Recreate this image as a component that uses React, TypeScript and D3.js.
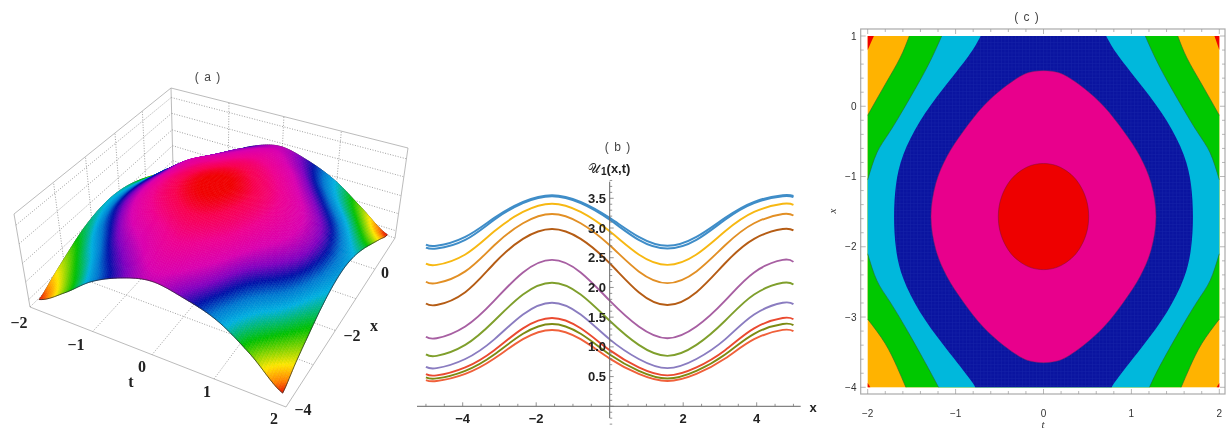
import React, { useMemo } from "react";
import * as d3 from "d3";

// ---------- panel (a): surface heights and hue values
const surfaceT = [-2, -1.5, -1, -0.5, 0, 0.5, 1, 1.5, 2];
const surfaceX = [1, 0.5, 0, -0.5, -1, -1.5, -2, -2.5, -3, -3.5, -4];
const surfaceH = [
  [0.88, 1.30, 1.95, 2.50, 2.77, 2.55, 2.14, 1.50, 0.88],
  [1.12, 1.62, 2.30, 2.80, 2.97, 2.73, 2.35, 1.74, 1.17],
  [1.40, 2.05, 2.66, 3.02, 3.15, 2.96, 2.60, 2.03, 1.47],
  [1.66, 2.30, 2.96, 3.20, 3.35, 3.17, 2.84, 2.30, 1.76],
  [1.85, 2.45, 3.05, 3.36, 3.48, 3.32, 3.06, 2.54, 1.98],
  [1.93, 2.52, 3.13, 3.45, 3.553, 3.40, 3.15, 2.65, 2.08],
  [1.88, 2.48, 3.08, 3.40, 3.51, 3.35, 3.10, 2.60, 2.02],
  [1.72, 2.30, 2.91, 3.23, 3.38, 3.22, 2.93, 2.42, 1.83],
  [1.46, 2.03, 2.66, 3.00, 3.20, 3.02, 2.70, 2.16, 1.55],
  [1.18, 1.72, 2.40, 2.80, 3.00, 2.84, 2.48, 1.90, 1.25],
  [0.90, 1.46, 2.15, 2.60, 2.84, 2.66, 2.33, 1.68, 0.90],
];
const surfaceU = [
  [0.88, 1.38, 2.06, 2.50, 2.77, 2.50, 2.00, 1.43, 0.88],
  [1.12, 1.68, 2.34, 2.68, 2.92, 2.68, 2.18, 1.67, 1.17],
  [1.40, 2.02, 2.62, 2.93, 3.13, 2.93, 2.46, 1.99, 1.47],
  [1.66, 2.28, 2.88, 3.19, 3.33, 3.15, 2.74, 2.30, 1.76],
  [1.85, 2.46, 3.06, 3.39, 3.48, 3.31, 2.96, 2.54, 1.98],
  [1.93, 2.56, 3.15, 3.47, 3.553, 3.39, 3.05, 2.65, 2.08],
  [1.88, 2.51, 3.10, 3.42, 3.51, 3.34, 3.00, 2.59, 2.02],
  [1.72, 2.32, 2.91, 3.25, 3.38, 3.21, 2.81, 2.38, 1.83],
  [1.46, 2.03, 2.64, 2.98, 3.19, 2.98, 2.54, 2.08, 1.55],
  [1.18, 1.71, 2.35, 2.75, 2.98, 2.75, 2.30, 1.75, 1.25],
  [0.90, 1.46, 2.11, 2.54, 2.80, 2.54, 2.11, 1.48, 0.90],
];
const hueLevels = [0.9, 1.02, 1.22, 1.62, 1.98, 2.2, 2.4, 2.6, 2.85, 3.15, 3.4, 3.53];
const hueColors = ["#e81800", "#ff8000", "#ffe600", "#00c000", "#00b0e0", "#0078d0", "#0010a8", "#8000c0", "#d800b0", "#ee0090", "#f80050", "#f00000"];
const wallFractions = [0.08, 0.27, 0.47, 0.68, 0.88];
const surfaceTTicks = [-2, -1, 0, 1, 2];
const surfaceXTicks = [-4, -3, -2, -1, 0, 1];
const floorCorners = [[30, 307], [286, 407], [395, 238], [173, 167]];
const topCorners = [[14, 214], [292, 305], [408, 148], [171, 88]];

// ---------- panel (b): line values
const linePhaseX = [-5, -4.71, -3.93, -3.14, -2.36, -1.57, -0.79, 0, 0.79, 1.57, 2.36, 3.14, 3.93, 4.71, 5];
const lineBlueA = [2.72, 2.70, 2.85, 3.17, 3.44, 3.553, 3.44, 3.17, 2.85, 2.70, 2.85, 3.17, 3.44, 3.553, 3.54];
const lineBlueB = [2.67, 2.654, 2.80, 3.14, 3.42, 3.536, 3.42, 3.14, 2.80, 2.654, 2.80, 3.14, 3.42, 3.536, 3.52];
const lineYellow = [2.40, 2.38, 2.555, 2.945, 3.27, 3.408, 3.27, 2.945, 2.555, 2.38, 2.555, 2.945, 3.27, 3.408, 3.39];
const lineOrange = [2.096, 2.073, 2.27, 2.71, 3.08, 3.235, 3.08, 2.71, 2.27, 2.073, 2.27, 2.71, 3.08, 3.235, 3.21];
const lineBrown = [1.73, 1.704, 1.92, 2.407, 2.817, 2.983, 2.817, 2.407, 1.92, 1.704, 1.92, 2.407, 2.817, 2.983, 2.96];
const linePurple = [1.17, 1.145, 1.343, 1.778, 2.253, 2.464, 2.253, 1.778, 1.343, 1.145, 1.343, 1.778, 2.253, 2.464, 2.43];
const lineGreen = [0.874, 0.849, 1.033, 1.439, 1.881, 2.078, 1.881, 1.439, 1.033, 0.849, 1.033, 1.439, 1.881, 2.078, 2.05];
const lineViolet = [0.664, 0.642, 0.796, 1.126, 1.545, 1.743, 1.545, 1.126, 0.796, 0.642, 0.796, 1.126, 1.545, 1.743, 1.72];
const lineRed = [0.54, 0.52, 0.655, 0.945, 1.312, 1.486, 1.312, 0.945, 0.655, 0.52, 0.655, 0.945, 1.312, 1.486, 1.465];
const lineOlive = [0.487, 0.469, 0.597, 0.872, 1.22, 1.385, 1.22, 0.872, 0.597, 0.469, 0.597, 0.872, 1.22, 1.385, 1.365];
const lineCoral = [0.442, 0.425, 0.545, 0.803, 1.13, 1.285, 1.13, 0.803, 0.545, 0.425, 0.545, 0.803, 1.13, 1.285, 1.265];
const lineSeries = [lineCoral, lineOlive, lineRed, lineViolet, lineGreen, linePurple, lineBrown, lineOrange, lineYellow, lineBlueB, lineBlueA];
const lineColors = ["#f0603a", "#7c8a12", "#ea4a30", "#8a7cc0", "#7f9f2c", "#a75fa2", "#b55c14", "#e28f24", "#f7b812", "#3f8dc8", "#3f8dc8"];
const lineWidths = [1.9, 1.9, 1.9, 1.9, 1.9, 1.9, 1.9, 1.9, 1.9, 2, 2];
const bXTicks = [-4, -2, 2, 4];
const bYTicks = [0.5, 1, 1.5, 2, 2.5, 3, 3.5];

// ---------- panel (c): contour outlines, as [t, x]
const contourRed = [[0, -0.815], [-0.135, -0.84], [-0.257, -0.916], [-0.365, -1.035], [-0.445, -1.192], [-0.497, -1.375], [-0.514, -1.57], [-0.497, -1.767], [-0.445, -1.948], [-0.365, -2.105], [-0.257, -2.224], [-0.135, -2.3], [0, -2.325], [0.135, -2.3], [0.257, -2.224], [0.365, -2.105], [0.445, -1.948], [0.497, -1.767], [0.514, -1.57], [0.497, -1.375], [0.445, -1.192], [0.365, -1.035], [0.257, -0.916], [0.135, -0.84]];
const contourPink = [[0, 0.507], [-0.1, 0.497], [-0.22, 0.455], [-0.457, 0.26], [-0.685, 0], [-0.912, -0.357], [-1.1, -0.72], [-1.225, -1.1], [-1.28, -1.57], [-1.225, -2.04], [-1.1, -2.42], [-0.912, -2.785], [-0.685, -3.142], [-0.457, -3.4], [-0.22, -3.597], [-0.1, -3.639], [0, -3.65], [0.1, -3.639], [0.22, -3.597], [0.457, -3.4], [0.685, -3.142], [0.912, -2.785], [1.1, -2.42], [1.225, -2.04], [1.28, -1.57], [1.225, -1.1], [1.1, -0.72], [0.912, -0.357], [0.685, 0], [0.457, 0.26], [0.22, 0.455], [0.1, 0.497]];
const blueEdgeLeft = [[-0.715, 1], [-0.855, 0.711], [-1.14, 0.253], [-1.405, -0.214], [-1.595, -0.689], [-1.678, -1.116], [-1.7, -1.57], [-1.678, -2.026], [-1.595, -2.453], [-1.405, -2.928], [-1.14, -3.395], [-0.855, -3.853], [-0.777, -4]];
const blueEdgeRight = [[0.777, -4], [0.855, -3.853], [1.14, -3.395], [1.405, -2.928], [1.595, -2.453], [1.678, -2.026], [1.7, -1.57], [1.678, -1.116], [1.595, -0.689], [1.405, -0.214], [1.14, 0.253], [0.855, 0.711], [0.713, 1]];
const cyanTopLeft = [[-1.158, 1], [-1.31, 0.59], [-1.519, 0.118], [-1.746, -0.357], [-1.895, -0.66], [-2, -1.045]];
const cyanBottomLeft = [[-2, -2.1], [-1.895, -2.482], [-1.746, -2.785], [-1.519, -3.26], [-1.31, -3.73], [-1.194, -4]];
const cyanBottomRight = [[1.206, -4], [1.31, -3.73], [1.519, -3.26], [1.746, -2.785], [1.895, -2.482], [2, -2.1]];
const cyanTopRight = [[2, -1.045], [1.895, -0.66], [1.746, -0.357], [1.519, 0.118], [1.31, 0.59], [1.158, 1]];
const greenTopLeft = [[-1.527, 1], [-1.632, 0.687], [-1.803, 0.307], [-2, -0.129]];
const greenBottomLeft = [[-2, -3.03], [-1.803, -3.373], [-1.668, -3.705], [-1.566, -4]];
const greenBottomRight = [[1.566, -4], [1.668, -3.705], [1.803, -3.373], [2, -3.03]];
const greenTopRight = [[2, -0.129], [1.803, 0.307], [1.632, 0.687], [1.528, 1]];
const redCorners = [
  [[-2, 1], [-1.93, 1], [-2, 0.8]],
  [[2, 1], [1.945, 1], [2, 0.8]],
  [[-2, -4], [-1.97, -4], [-2, -3.94]],
  [[2, -4], [1.97, -4], [2, -3.94]],
];
const cTTicks = [-2, -1, 0, 1, 2];
const cXTicks = [1, 0, -1, -2, -3, -4];

const SANS = "'Liberation Sans', Arial, sans-serif";
const SERIF = "'Liberation Serif', 'Times New Roman', serif";

function homography(q: number[][]) {
  const [[x0, y0], [x1, y1], [x2, y2], [x3, y3]] = q;
  const dx1 = x1 - x2, dx2 = x3 - x2, sx = x0 - x1 + x2 - x3;
  const dy1 = y1 - y2, dy2 = y3 - y2, sy = y0 - y1 + y2 - y3;
  const den = dx1 * dy2 - dx2 * dy1;
  const g = (sx * dy2 - dx2 * sy) / den, h = (dx1 * sy - sx * dy1) / den;
  const a = x1 - x0 + g * x1, b = x3 - x0 + h * x3;
  const d = y1 - y0 + g * y1, e = y3 - y0 + h * y3;
  return (u: number, v: number) => {
    const w = g * u + h * v + 1;
    return [(a * u + b * v + x0) / w, (d * u + e * v + y0) / w];
  };
}

function cr(p0: number, p1: number, p2: number, p3: number, f: number) {
  return 0.5 * (2 * p1 + (p2 - p0) * f + (2 * p0 - 5 * p1 + 4 * p2 - p3) * f * f + (3 * p1 - p0 - 3 * p2 + p3) * f * f * f);
}

function sampleSurface(m: number[][], t: number, x: number) {
  const ft = ((t - surfaceT[0]) / (surfaceT[surfaceT.length - 1] - surfaceT[0])) * (surfaceT.length - 1);
  const fx = ((surfaceX[0] - x) / (surfaceX[0] - surfaceX[surfaceX.length - 1])) * (surfaceX.length - 1);
  const it = Math.min(Math.floor(ft), surfaceT.length - 2), ix = Math.min(Math.floor(fx), surfaceX.length - 2);
  const at = (r: number, c: number) => m[Math.max(0, Math.min(surfaceX.length - 1, r))][Math.max(0, Math.min(surfaceT.length - 1, c))];
  const row = (r: number) => cr(at(r, it - 1), at(r, it), at(r, it + 1), at(r, it + 2), ft - it);
  return cr(row(ix - 1), row(ix), row(ix + 1), row(ix + 2), fx - ix);
}

function PanelA() {
  const uScale = d3.scaleLinear().domain([-2, 2]).range([0.025, 0.975]);
  const vScale = d3.scaleLinear().domain([-4, 1]).range([0.025, 0.975]);
  const zScale = d3.scaleLinear().domain([0.72, 3.72]).range([0, 1]);
  const color = d3.scaleLinear<string>().domain(hueLevels).range(hueColors).interpolate(d3.interpolateRgb).clamp(true);
  const hFloor = homography(floorCorners);
  const hTop = homography(topCorners);
  const project = (t: number, x: number, f: number) => {
    const a = hFloor(uScale(t), vScale(x));
    const b = hTop(uScale(t), vScale(x));
    return [a[0] + (b[0] - a[0]) * f, a[1] + (b[1] - a[1]) * f];
  };
  const corner = (ut: number, vx: number, f: number) => {
    const a = hFloor(ut, vx), b = hTop(ut, vx);
    return [a[0] + (b[0] - a[0]) * f, a[1] + (b[1] - a[1]) * f] as [number, number];
  };
  const line = d3.line();
  const quads = useMemo(() => {
    const N = 110;
    const ts = d3.range(N + 1).map((i) => -2 + (4 * i) / N);
    const xs = d3.range(N + 1).map((i) => 1 - (5 * i) / N);
    const grid = ts.map((tv) => xs.map((xv) => ({
      p: project(tv, xv, zScale(sampleSurface(surfaceH, tv, xv))),
      u: sampleSurface(surfaceU, tv, xv),
    })));
    const out: { d: string; c: string }[] = [];
    for (let i = 0; i < N; i++) {
      for (let j = 0; j < N; j++) {
        const a = grid[i][j], b = grid[i + 1][j], c = grid[i + 1][j + 1], e = grid[i][j + 1];
        const pts = [a.p, b.p, c.p, e.p].map((p) => p[0].toFixed(2) + "," + p[1].toFixed(2));
        out.push({ d: "M" + pts.join("L") + "Z", c: color((a.u + b.u + c.u + e.u) / 4) });
      }
    }
    return out;
  }, []);
  const edge = (fn: (s: number) => [number, number]) => line(d3.range(81).map((i) => {
    const [t, x] = fn(i / 80);
    return project(t, x, zScale(sampleSurface(surfaceH, t, x))) as [number, number];
  }));
  const dotted = { stroke: "#888", strokeWidth: 0.8, strokeDasharray: "1 1.6", fill: "none" };
  const solid = { stroke: "#aaa", strokeWidth: 0.8, fill: "none" };
  return (
    <g>
      {wallFractions.map((f) => (
        <g key={f}>
          <path d={line([corner(0, 0, f), corner(0, 1, f)])!} {...dotted} />
          <path d={line([corner(0, 1, f), corner(1, 1, f)])!} {...dotted} />
        </g>
      ))}
      {surfaceXTicks.slice(1, 5).map((x) => <path key={x} d={line([corner(0, vScale(x), 0), corner(0, vScale(x), 1)])!} {...dotted} />)}
      {surfaceTTicks.slice(1, 4).map((t) => <path key={t} d={line([corner(uScale(t), 1, 0), corner(uScale(t), 1, 1)])!} {...dotted} />)}
      {surfaceTTicks.slice(1, 4).map((t) => <path key={t} d={line([corner(uScale(t), 0, 0), corner(uScale(t), 1, 0)])!} {...dotted} />)}
      {surfaceXTicks.slice(1, 5).map((x) => <path key={x} d={line([corner(0, vScale(x), 0), corner(1, vScale(x), 0)])!} {...dotted} />)}
      <path d={line([corner(0, 0, 1), corner(0, 1, 1), corner(1, 1, 1)])!} {...solid} />
      <path d={line([corner(0, 0, 0), corner(0, 0, 1)])!} {...solid} />
      <path d={line([corner(0, 1, 0), corner(0, 1, 1)])!} {...solid} />
      <path d={line([corner(1, 1, 0), corner(1, 1, 1)])!} {...solid} />
      <path d={line([corner(0, 0, 0), corner(1, 0, 0), corner(1, 1, 0)])!} {...solid} />
      <path d={line([corner(0, 0, 0), corner(0, 1, 0), corner(1, 1, 0)])!} {...dotted} />
      <path d={edge((s) => [-2, -4 + 5 * s])!} fill="none" stroke="#222" strokeWidth={0.7} />
      <path d={edge((s) => [-2 + 4 * s, 1])!} fill="none" stroke="#222" strokeWidth={0.7} />
      {quads.map((q, i) => <path key={i} d={q.d} fill={q.c} stroke={q.c} strokeWidth={0.6} strokeLinejoin="round" />)}
      <path d={edge((s) => [-2 + 4 * s, -4])!} fill="none" stroke="#222" strokeWidth={0.7} />
      <path d={edge((s) => [2, -4 + 5 * s])!} fill="none" stroke="#222" strokeWidth={0.7} />
      <g fontFamily={SERIF} fontWeight="bold" fontSize={16} fill="#222" textAnchor="middle">
        <text x={19} y={328}>−2</text>
        <text x={76} y={350}>−1</text>
        <text x={142} y={372}>0</text>
        <text x={207} y={397}>1</text>
        <text x={274} y={424}>2</text>
        <text x={131} y={387}>t</text>
        <text x={303} y={415}>−4</text>
        <text x={352} y={341}>−2</text>
        <text x={385} y={278}>0</text>
        <text x={374} y={331}>x</text>
      </g>
      <text x={208} y={81} fontFamily={SANS} fontSize={12} fill="#444" textAnchor="middle" letterSpacing={1}>( a )</text>
    </g>
  );
}

function PanelB() {
  const x = d3.scaleLinear().domain([-4, 4]).range([462.7, 756.7]);
  const y = d3.scaleLinear().domain([0, 3.5]).range([406.3, 198.3]);
  const gen = d3.line<number>().x((_, i) => x(linePhaseX[i])).y((v) => y(v)).curve(d3.curveNatural);
  const minorX = d3.range(-5, 5.01, 0.5);
  const minorY = d3.range(-0.3, 3.81, 0.1);
  return (
    <g>
      {lineSeries.map((s, i) => <path key={i} d={gen(s)!} fill="none" stroke={lineColors[i]} strokeWidth={lineWidths[i]} />)}
      <path d={`M417,${y(0)}H800.7`} stroke="#666" strokeWidth={1} />
      <path d={`M${x(0)},181.7V418`} stroke="#666" strokeWidth={1} />
      {minorX.map((v) => {
        const major = Math.abs(v % 2) < 1e-6 && v !== 0;
        return <path key={v} d={`M${x(v)},${y(0) - (major ? 4 : 2.5)}V${y(0)}`} stroke="#777" strokeWidth={0.8} />;
      })}
      {minorY.map((v, i) => {
        const major = Math.abs((v * 2) % 1) < 1e-6 || Math.abs(((v * 2) % 1) - 1) < 1e-6;
        return <path key={i} d={`M${x(0)},${y(v)}h${major ? 4 : 2.5}`} stroke="#777" strokeWidth={0.8} />;
      })}
      <g fontFamily={SANS} fontWeight="bold" fontSize={13} fill="#222">
        {bXTicks.map((v) => <text key={v} x={x(v)} y={423} textAnchor="middle">{v < 0 ? "−" + -v : v}</text>)}
        {bYTicks.map((v) => <text key={v} x={606} y={y(v) + 4.5} textAnchor="end">{v.toFixed(1)}</text>)}
        <text x={813} y={412} textAnchor="middle" fontSize={13}>x</text>
        <text x={588} y={173} textAnchor="start" fontSize={13}>
          <tspan fontFamily="'DejaVu Sans', serif" fontWeight="normal">𝒰</tspan>
          <tspan fontSize={10} dy={2} dx={1}>1</tspan>
          <tspan dy={-2}>(x,t)</tspan>
        </text>
      </g>
      <text x={618} y={151} fontFamily={SANS} fontSize={12} fill="#444" textAnchor="middle" letterSpacing={1}>( b )</text>
    </g>
  );
}

function PanelC() {
  const t = d3.scaleLinear().domain([-2, 2]).range([867.7, 1219.3]);
  const xs = d3.scaleLinear().domain([1, -4]).range([36, 387.3]);
  const open = d3.line<number[]>().x((d) => t(d[0])).y((d) => xs(d[1])).curve(d3.curveNatural);
  const closed = d3.line<number[]>().x((d) => t(d[0])).y((d) => xs(d[1])).curve(d3.curveCatmullRomClosed.alpha(0.5));
  const join = (parts: number[][][]) => parts.map((p, i) => (i ? open(p)!.replace(/^M/, "L") : open(p)!)).join("") + "Z";
  const greenRegion = join([greenTopLeft, greenBottomLeft, greenBottomRight, greenTopRight]);
  const cyanRegion = join([cyanTopLeft, cyanBottomLeft, cyanBottomRight, cyanTopRight]);
  const blueRegion = join([blueEdgeLeft, blueEdgeRight]);
  const edge = { fill: "none", stroke: "#2a6a2a", strokeWidth: 0.6 };
  const L = 860.7, R = 1225, T = 29, B = 394;
  const minorT = d3.range(-2, 2.01, 0.2);
  const minorX = d3.range(-4, 1.01, 0.2);
  return (
    <g>
      <defs>
        <pattern id="blueMesh" width={3.5} height={3.5} patternUnits="userSpaceOnUse">
          <path d="M0,0H3.5M0,0V3.5" stroke="#3448c0" strokeWidth={0.7} opacity={0.35} />
        </pattern>
      </defs>
      <rect x={t(-2)} y={xs(1)} width={t(2) - t(-2)} height={xs(-4) - xs(1)} fill="#ffb300" />
      {redCorners.map((c, i) => <polygon key={i} points={c.map((d) => `${t(d[0])},${xs(d[1])}`).join(" ")} fill="#ee0000" />)}
      <path d={greenRegion} fill="#00c800" />
      <path d={cyanRegion} fill="#00b8dc" />
      <path d={blueRegion} fill="#0a14a0" />
      <path d={blueRegion} fill="url(#blueMesh)" />
      <path d={closed(contourPink)!} fill="#e8008c" stroke="#7a2060" strokeWidth={0.5} />
      <path d={closed(contourRed)!} fill="#ee0000" stroke="#7a1030" strokeWidth={0.5} />
      {[greenTopLeft, greenBottomLeft, greenBottomRight, greenTopRight, cyanTopLeft, cyanBottomLeft, cyanBottomRight, cyanTopRight].map((p, i) => <path key={i} d={open(p)!} {...edge} />)}
      <rect x={L} y={T} width={R - L} height={B - T} fill="none" stroke="#aaa" strokeWidth={1.2} />
      {minorT.map((v) => {
        const major = Math.abs(v - Math.round(v)) < 1e-6;
        const l = major ? 5 : 3;
        return <path key={v} d={`M${t(v)},${B}v${-l}M${t(v)},${T}v${l}`} stroke="#999" strokeWidth={0.7} />;
      })}
      {minorX.map((v) => {
        const major = Math.abs(v - Math.round(v)) < 1e-6;
        const l = major ? 5 : 3;
        return <path key={v} d={`M${L},${xs(v)}h${l}M${R},${xs(v)}h${-l}`} stroke="#999" strokeWidth={0.7} />;
      })}
      <g fontFamily={SANS} fontSize={10} fill="#333">
        {cTTicks.map((v) => <text key={v} x={t(v)} y={417} textAnchor="middle">{v < 0 ? "−" + -v : v}</text>)}
        {cXTicks.map((v) => <text key={v} x={856.5} y={xs(v) + 3.5} textAnchor="end">{v < 0 ? "−" + -v : v}</text>)}
      </g>
      <text x={1043} y={428} fontFamily={SERIF} fontStyle="italic" fontSize={11} fill="#333" textAnchor="middle">t</text>
      <text transform="translate(836,211) rotate(-90)" fontFamily={SERIF} fontStyle="italic" fontSize={11} fill="#333" textAnchor="middle">x</text>
      <text x={1027} y={21} fontFamily={SANS} fontSize={12} fill="#444" textAnchor="middle" letterSpacing={1}>( c )</text>
    </g>
  );
}

export default function App() {
  return (
    <svg width={1226} height={431} viewBox="0 0 1226 431" style={{ position: "absolute", left: 0, top: 0, background: "#fff", filter: "blur(0.4px)" }}>
      <PanelA />
      <PanelB />
      <PanelC />
    </svg>
  );
}
